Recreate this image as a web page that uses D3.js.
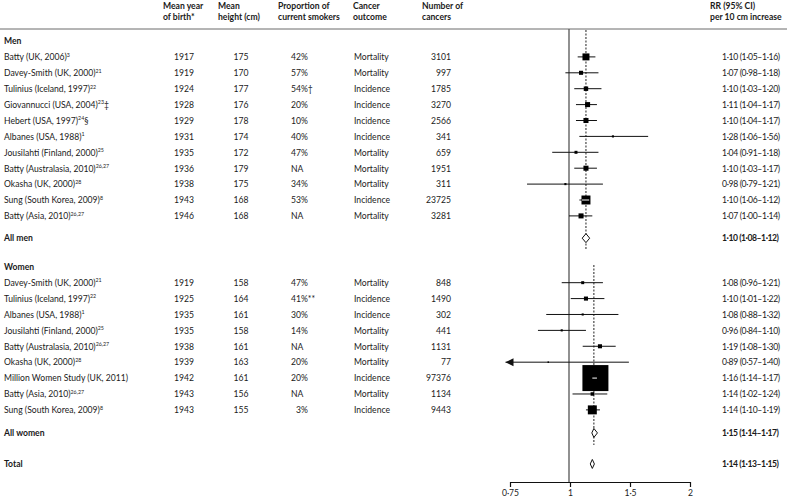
<!DOCTYPE html>
<html><head><meta charset="utf-8">
<script src="https://cdn.jsdelivr.net/npm/d3@7"></script>
<style>
body{margin:0;background:#fff}
text{font-family:Lato, "Open Sans", sans-serif; fill:#1a1a1a;}
</style>
</head><body>
<svg id="chart" width="787" height="498"></svg>
<script>
// ---------- DATA ----------
const menStudies = ["Batty (UK, 2006)","Davey-Smith (UK, 2000)","Tulinius (Iceland, 1997)","Giovannucci (USA, 2004)","Hebert (USA, 1997)","Albanes (USA, 1988)","Jousilahti (Finland, 2000)","Batty (Australasia, 2010)","Okasha (UK, 2000)","Sung (South Korea, 2009)","Batty (Asia, 2010)"];
const menRefs = ["3","21","22","23","24","1","25","26,27","28","8","26,27"];
const menMarks = ["","","","‡","§","","","","","",""];
const menYear = [1917,1919,1924,1928,1929,1931,1935,1936,1938,1943,1946];
const menHeight = [175,170,177,176,178,174,172,179,175,168,168];
const menSmokers = ["42%","57%","54%†","20%","10%","40%","47%","NA","34%","53%","NA"];
const menOutcome = ["Mortality","Mortality","Incidence","Incidence","Incidence","Incidence","Mortality","Mortality","Mortality","Incidence","Mortality"];
const menCancers = [3101,997,1785,3270,2566,341,659,1951,311,23725,3281];
const menRR = [1.10,1.07,1.10,1.11,1.10,1.28,1.04,1.10,0.98,1.10,1.07];
const menLo = [1.05,0.98,1.03,1.04,1.04,1.06,0.91,1.03,0.79,1.06,1.00];
const menHi = [1.16,1.18,1.20,1.17,1.17,1.56,1.18,1.17,1.21,1.12,1.14];
const menWeight = [4.4,1.5,1.8,2.3,2.3,0.4,0.8,2.3,0.4,7.3,2.3];

const womenStudies = ["Davey-Smith (UK, 2000)","Tulinius (Iceland, 1997)","Albanes (USA, 1988)","Jousilahti (Finland, 2000)","Batty (Australasia, 2010)","Okasha (UK, 2000)","Million Women Study (UK, 2011)","Batty (Asia, 2010)","Sung (South Korea, 2009)"];
const womenRefs = ["21","22","1","25","26,27","28","","26,27","8"];
const womenMarks = ["","","","","","","","",""];
const womenYear = [1919,1925,1935,1935,1938,1939,1942,1943,1943];
const womenHeight = [158,164,161,158,161,163,161,156,155];
const womenSmokers = ["47%","41%**","30%","14%","NA","20%","20%","NA","\u20073%"];
const womenOutcome = ["Mortality","Incidence","Incidence","Mortality","Mortality","Mortality","Incidence","Mortality","Incidence"];
const womenCancers = [848,1490,302,441,1131,77,97376,1134,9443];
const womenRR = [1.08,1.10,1.08,0.96,1.19,0.89,1.16,1.14,1.14];
const womenLo = [0.96,1.01,0.88,0.84,1.08,0.57,1.14,1.02,1.10];
const womenHi = [1.21,1.22,1.32,1.10,1.30,1.40,1.17,1.24,1.19];
const womenWeight = [0.8,1.5,0.4,0.4,1.5,0.2,61.3,1.1,7.3];

const summaryLabels = ["All men","All women","Total"];
const summaryRR = [1.10,1.15,1.14];
const summaryLo = [1.08,1.14,1.13];
const summaryHi = [1.12,1.17,1.15];

const groupLabels = ["Men","Women"];
const headerLines = [
  ["Mean year","of birth*"],
  ["Mean","height (cm)"],
  ["Proportion of","current smokers"],
  ["Cancer","outcome"],
  ["Number of","cancers"],
  ["RR (95% CI)","per 10 cm increase"]
];
const axisTicks = ["0·75","1","1·5","2"];
const ciFloor = 0.70;

// ---------- LAYOUT ----------
const svg = d3.select("#chart");
const fs = 8.6;
const fmt = v => d3.format(".2f")(v).replace(".", "·");
const rrLabel = (r,l,h) => `${fmt(r)} (${fmt(l)}–${fmt(h)})`;

const x = d3.scaleLog().domain([1, 2]).range([569, 569 + 178 * Math.LN2]);
const sizeScale = d3.scaleSqrt().domain([0, 61.3]).range([0, 26]);

// row slots -> y
const y = d3.scaleLinear().domain([0, 1]).range([41, 56.9]);
const menSlots = menStudies.map((d,i) => 1 + i);
const menSummarySlot = 12.4;
const womenHeaderSlot = 14.2;
const womenSlots = womenStudies.map((d,i) => 15.2 + i);
const womenSummarySlot = 24.65;
const totalSlot = 26.6;

const cols = {name:4, year:184, height:241, smokers:291, outcome:354, cancers:451, rr:722};
const headX = [163, 218, 278, 353, 422, 710];

// header
headerLines.forEach((lines, i) => {
  lines.forEach((t, j) => {
    svg.append("text").attr("x", headX[i]).attr("y", 8.5 + j * 11)
      .attr("font-size", fs).attr("font-weight", 700).text(t);
  });
});
svg.append("line").attr("x1", 0).attr("x2", 787).attr("y1", 29).attr("y2", 29)
  .attr("stroke", "#6a6a6a").attr("stroke-width", 1);

// reference line at 1
svg.append("line").attr("x1", x(1)).attr("x2", x(1)).attr("y1", 29).attr("y2", 482)
  .attr("stroke", "#555").attr("stroke-width", 1.3);

// dashed summary lines
svg.append("line").attr("x1", x(summaryRR[0])).attr("x2", x(summaryRR[0]))
  .attr("y1", 30).attr("y2", 250).attr("stroke", "#222").attr("stroke-dasharray", "2,1.5");
svg.append("line").attr("x1", x(summaryRR[1])).attr("x2", x(summaryRR[1]))
  .attr("y1", 265).attr("y2", 445).attr("stroke", "#222").attr("stroke-dasharray", "2,1.5");

function rrText(yy, label, bold) {
  svg.append("text").attr("x", cols.rr).attr("y", yy + 3.3).attr("font-size", fs)
    .attr("letter-spacing", bold ? -0.45 : -0.35).attr("font-weight", bold ? 700 : 400).text(label);
}

function textRow(yy, opts) {
  const base = yy + 3.3;
  const t = svg.append("text").attr("x", cols.name).attr("y", base).attr("font-size", fs);
  t.append("tspan").text(opts.name);
  if (opts.ref) t.append("tspan").attr("font-size", 5.3).attr("dy", -3.5).text(opts.ref);
  if (opts.mark) t.append("tspan").attr("dy", opts.ref ? 3.5 : 0).text(opts.mark);
  svg.append("text").attr("x", cols.year).attr("y", base).attr("font-size", fs).attr("text-anchor","middle").text(opts.year);
  svg.append("text").attr("x", cols.height).attr("y", base).attr("font-size", fs).attr("text-anchor","middle").text(opts.height);
  svg.append("text").attr("x", cols.smokers).attr("y", base).attr("font-size", fs).text(opts.smokers);
  svg.append("text").attr("x", cols.outcome).attr("y", base).attr("font-size", fs).text(opts.outcome);
  svg.append("text").attr("x", cols.cancers).attr("y", base).attr("font-size", fs).attr("text-anchor","end").text(opts.cancers);
  rrText(yy, rrLabel(opts.rr, opts.lo, opts.hi), false);
}

function studyMark(yy, rr, lo, hi, w) {
  const xl = x(Math.max(lo, ciFloor)), xh = x(hi);
  svg.append("line").attr("x1", xl).attr("x2", xh).attr("y1", yy).attr("y2", yy)
    .attr("stroke", "#111").attr("stroke-width", 1);
  if (lo < ciFloor) {
    svg.append("path").attr("d", `M${xl},${yy} L${xl + 8},${yy - 4} L${xl + 8},${yy + 4} Z`).attr("fill", "#111");
  }
  const s = Math.max(1.5, sizeScale(w));
  svg.append("rect").attr("x", x(rr) - s/2).attr("y", yy - s/2).attr("width", s).attr("height", s).attr("fill", "#000");
  if (xh - xl <= s * 1.1) {
    svg.append("line").attr("x1", Math.max(xl, x(rr) - s/2 + 0.5)).attr("x2", Math.min(xh, x(rr) + s/2 - 0.5))
      .attr("y1", yy).attr("y2", yy).attr("stroke", "#fff").attr("stroke-width", 1);
  }
}

function summaryRow(yy, i) {
  svg.append("text").attr("x", cols.name).attr("y", yy + 3.3).attr("font-size", fs).attr("font-weight", 700).text(summaryLabels[i]);
  rrText(yy, rrLabel(summaryRR[i], summaryLo[i], summaryHi[i]), true);
  const h = 4.5;
  svg.append("path")
    .attr("d", `M${x(summaryLo[i]) - 0.5},${yy} L${x(summaryRR[i])},${yy - h} L${x(summaryHi[i]) + 0.5},${yy} L${x(summaryRR[i])},${yy + h} Z`)
    .attr("fill", "#fff").attr("stroke", "#111").attr("stroke-width", 1);
}

// Men
svg.append("text").attr("x", cols.name).attr("y", y(0) + 3.3).attr("font-size", fs).attr("font-weight", 700).text(groupLabels[0]);
menStudies.forEach((n, i) => {
  const yy = y(menSlots[i]);
  textRow(yy, {name:n, ref:menRefs[i], mark:menMarks[i], year:menYear[i], height:menHeight[i], smokers:menSmokers[i],
    outcome:menOutcome[i], cancers:menCancers[i], rr:menRR[i], lo:menLo[i], hi:menHi[i]});
  studyMark(yy, menRR[i], menLo[i], menHi[i], menWeight[i]);
});
summaryRow(y(menSummarySlot), 0);

// Women
svg.append("text").attr("x", cols.name).attr("y", y(womenHeaderSlot) + 3.3).attr("font-size", fs).attr("font-weight", 700).text(groupLabels[1]);
womenStudies.forEach((n, i) => {
  const yy = y(womenSlots[i]);
  textRow(yy, {name:n, ref:womenRefs[i], mark:womenMarks[i], year:womenYear[i], height:womenHeight[i], smokers:womenSmokers[i],
    outcome:womenOutcome[i], cancers:womenCancers[i], rr:womenRR[i], lo:womenLo[i], hi:womenHi[i]});
  studyMark(yy, womenRR[i], womenLo[i], womenHi[i], womenWeight[i]);
});
summaryRow(y(womenSummarySlot), 1);
summaryRow(y(totalSlot), 2);

// axis
const axisScale = d3.scalePoint().domain(axisTicks).range([510, 690]);
const ax = svg.append("g").attr("transform", "translate(0,482)")
  .call(d3.axisBottom(axisScale).tickSize(5).tickSizeOuter(0).tickPadding(3));
ax.select(".domain").attr("stroke", "#111").attr("stroke-width", 1.2);
ax.selectAll(".tick line").attr("stroke", "#111").attr("stroke-width", 1.2);
ax.selectAll(".tick text").attr("font-size", fs).attr("font-family", "Lato, sans-serif").attr("fill", "#1a1a1a");
</script>
</body></html>
